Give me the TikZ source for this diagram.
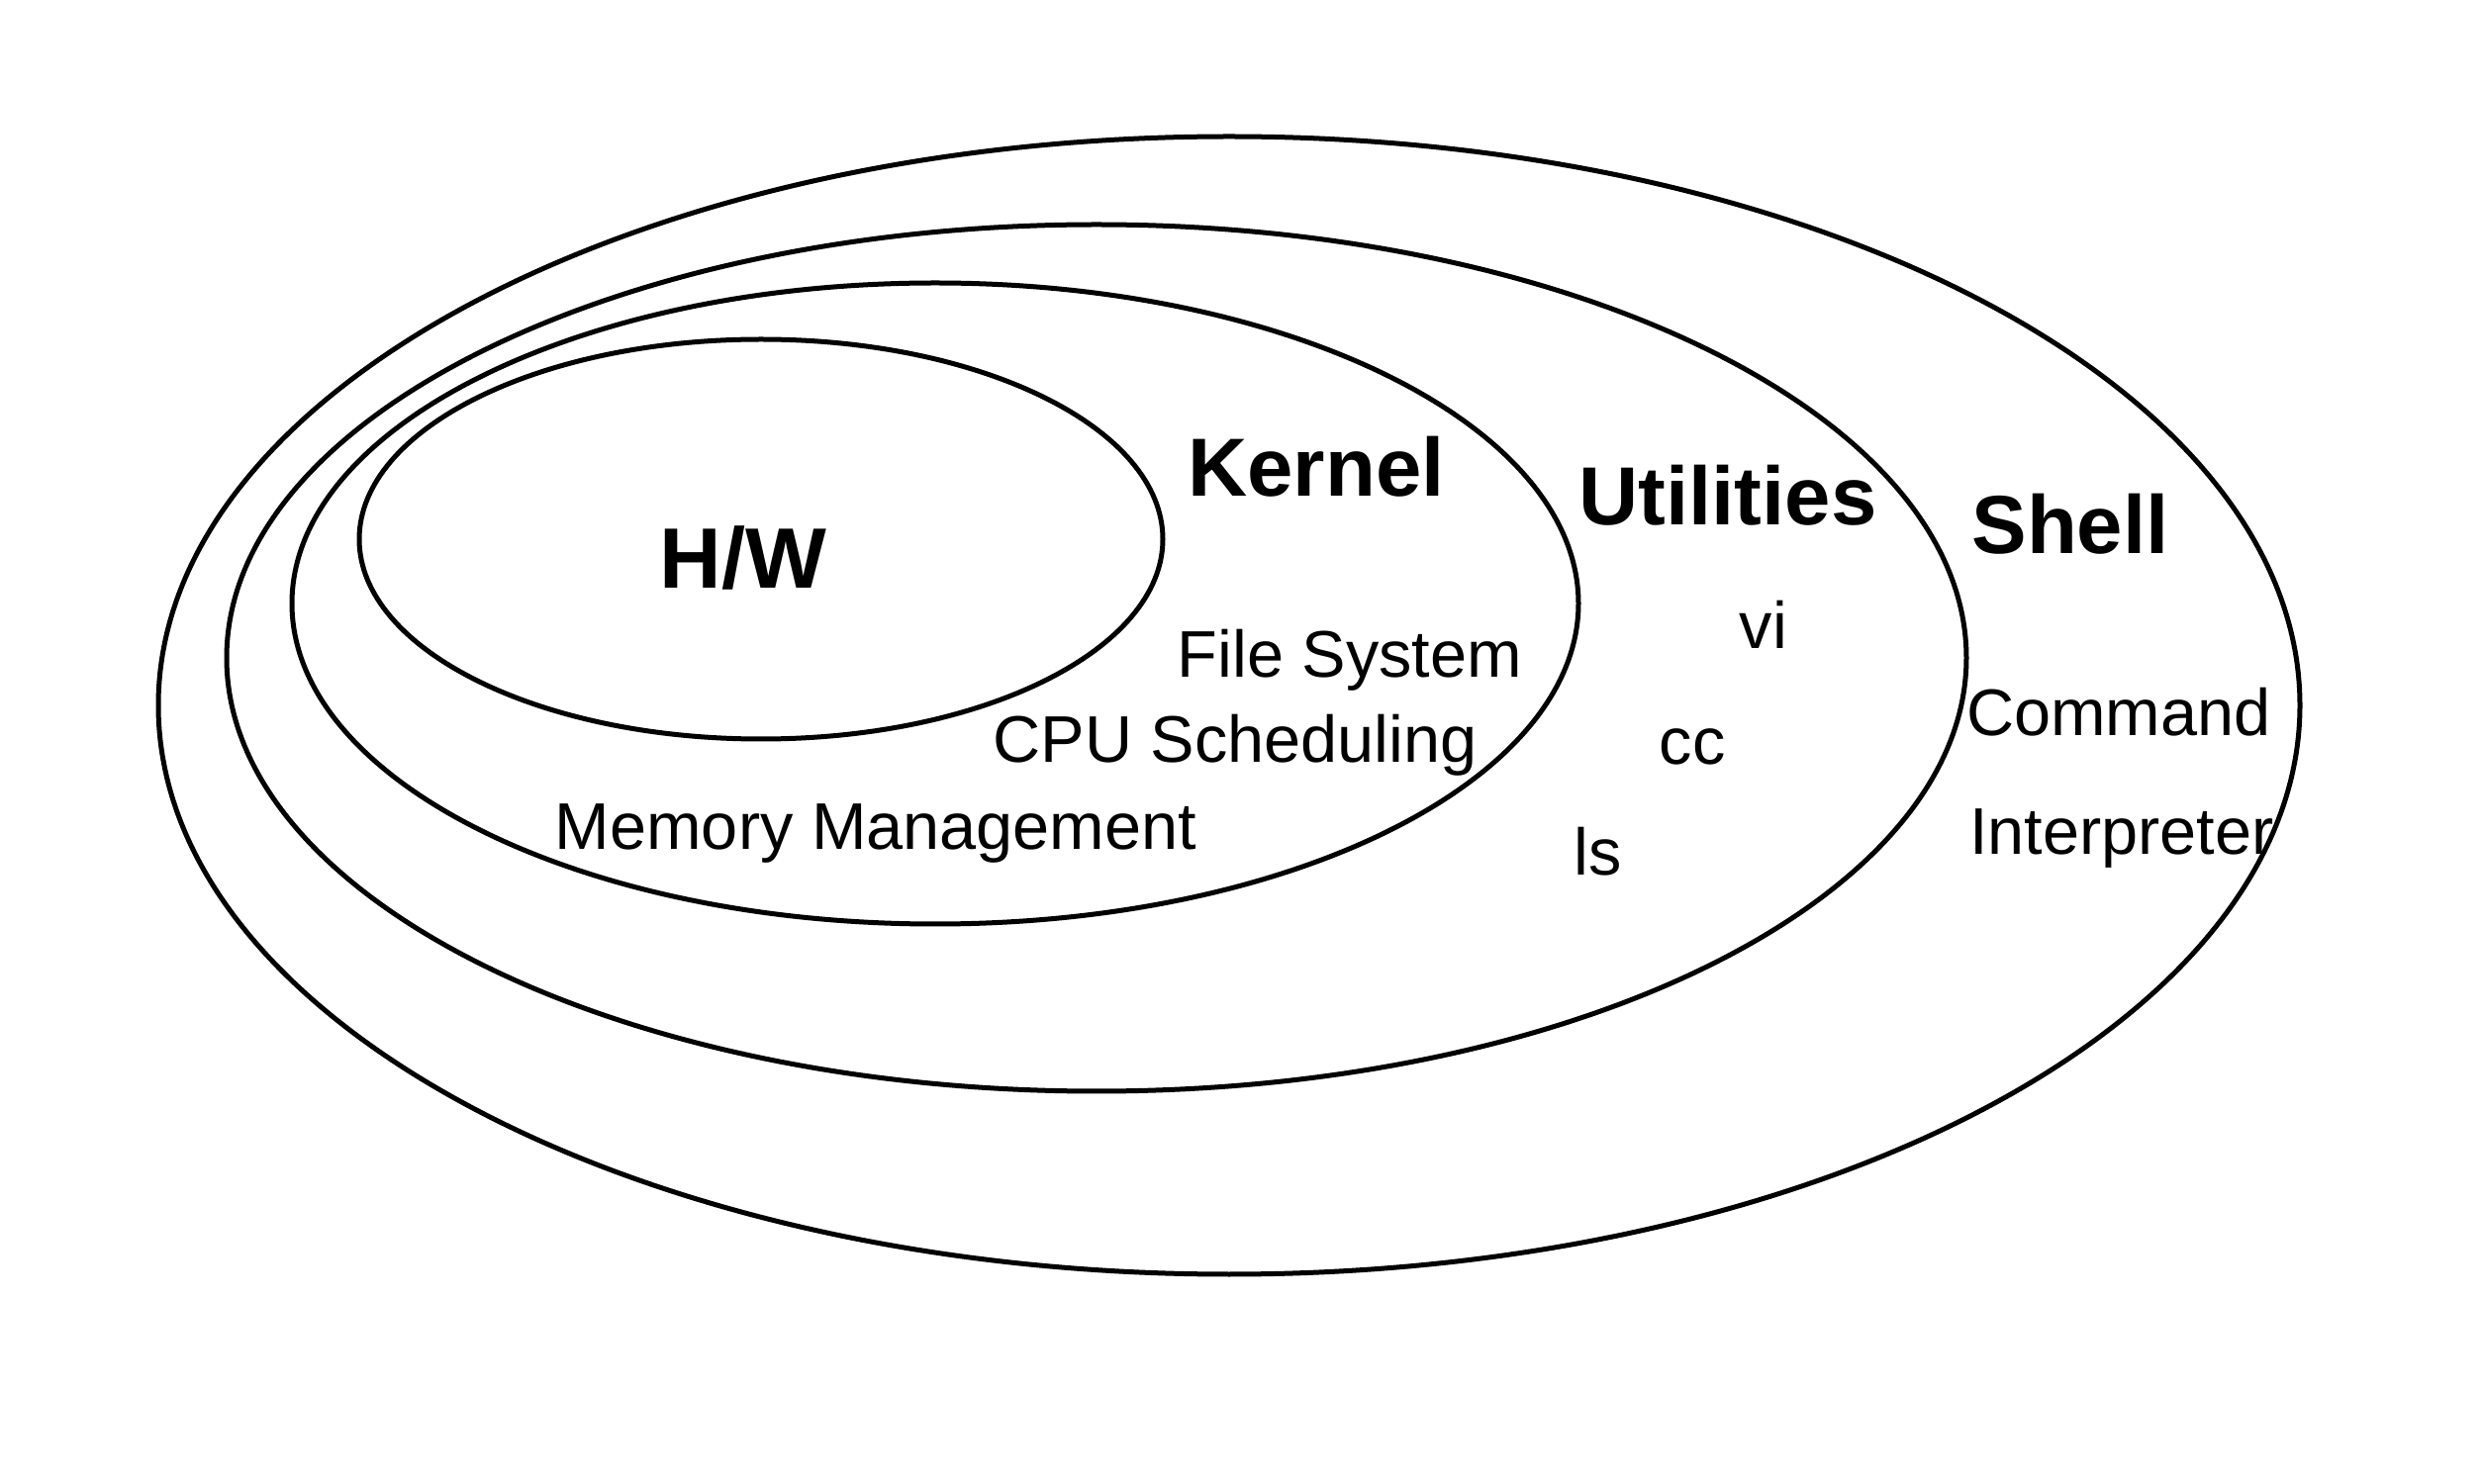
\documentclass[tikz,border=0pt]{standalone}
\usepackage{fontspec}
\setmainfont{Liberation Sans}
\begin{document}
\begin{tikzpicture}[x=0.3pt,y=-0.3pt,
  ring/.style={draw=black,line width=1.5pt},
  title/.style={inner sep=0pt,anchor=base,font=\fontsize{25}{28}\selectfont\bfseries},
  item/.style={inner sep=0pt,anchor=base,font=\fontsize{20}{24}\selectfont}]
\useasboundingbox[fill=white] (0,0) rectangle (2508,1500);
\draw[ring] (1242,713) ellipse [x radius=1082, y radius=575];
\draw[ring] (1108,665) ellipse [x radius=879, y radius=438];
\draw[ring] (945,610) ellipse [x radius=650, y radius=324];
\draw[ring] (769,545) ellipse [x radius=406, y radius=202];
\node[title,font=\fontsize{26}{30}\selectfont\bfseries] (hw) at (751,595) {H/W};
\node[title] (kernel) at (1330,502) {Kernel};
\node[title] (util) at (1746,531) {Utilities};
\node[title] (shell) at (2092,560) {Shell};
\node[item] (fs) at (1364,685) {File System};
\node[item] (cpu) at (1248,771) {CPU Scheduling};
\node[item] (mem) at (885,859) {Memory Management};
\node[item] (vi) at (1782,656) {vi};
\node[item] (cc) at (1710,773) {cc};
\node[item] (ls) at (1615,885) {ls};
\node[item] (cmd) at (2141,744) {Command};
\node[item] (interp) at (2144,864) {Interpreter};
\end{tikzpicture}
\end{document}
